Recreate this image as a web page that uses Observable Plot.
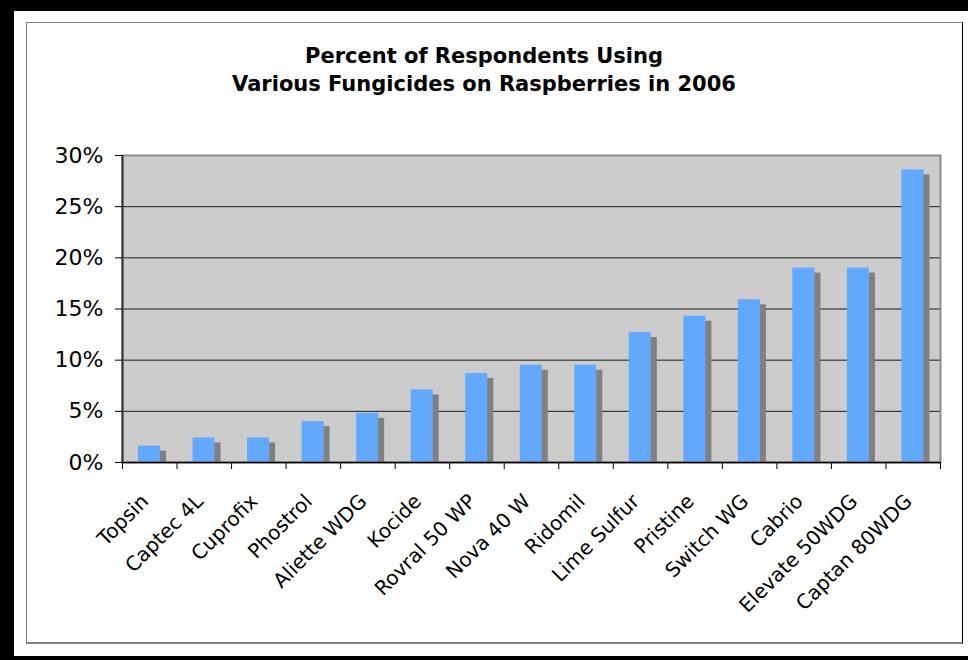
<!DOCTYPE html>
<html><head><meta charset="utf-8">
<script src="https://cdn.jsdelivr.net/npm/d3@7"></script>
<script src="https://cdn.jsdelivr.net/npm/@observablehq/plot@0.6"></script>
<style>
body{margin:0;background:#fff;}
#page{position:relative;width:968px;height:660px;overflow:hidden;background:#fff;font-family:"DejaVu Sans",Verdana,sans-serif;}
.blk{position:absolute;background:#000;}
#inner{position:absolute;left:26px;top:22px;width:937px;height:622px;border:1px solid #808080;border-right-color:#000;border-bottom:2px solid #808080;box-sizing:border-box;}
#title{position:absolute;left:0;width:968px;top:42px;text-align:center;font-weight:bold;font-size:21px;line-height:28px;color:#000;}
#chart{position:absolute;left:0;top:0;}
</style></head>
<body>
<div id="page">
  <div class="blk" style="left:0;top:0;width:968px;height:11px"></div>
  <div class="blk" style="left:0;top:0;width:14px;height:660px"></div>
  <div class="blk" style="left:0;top:656px;width:968px;height:4px"></div>
  <div id="inner"></div>
  <div id="title">Percent of Respondents Using<br>Various Fungicides on Raspberries in 2006</div>
  <div id="chart"></div>
</div>
<script>
const categories = ["Topsin","Captec 4L","Cuprofix","Phostrol","Aliette WDG","Kocide","Rovral 50 WP","Nova 40 W","Ridomil","Lime Sulfur","Pristine","Switch WG","Cabrio","Elevate 50WDG","Captan 80WDG"];
const percents = [1.6,2.4,2.4,4.0,4.8,7.1,8.7,9.5,9.5,12.7,14.3,15.9,19.0,19.0,28.6];
const yTicks = [0,5,10,15,20,25,30];

const data = categories.map((name, i) => ({name, i, value: percents[i]}));

const chart = Plot.plot({
  width: 968, height: 660,
  marginTop: 155, marginLeft: 122, marginRight: 28, marginBottom: 198,
  x: {domain: [0, categories.length], axis: null, label: null},
  y: {domain: [0, 30], axis: null, label: null},
  style: {fontFamily: "'DejaVu Sans', Verdana, sans-serif", background: "transparent", overflow: "visible", color: "#000"},
  marks: [
    Plot.frame({fill: "#CCCCCC", stroke: null}),
    Plot.ruleY(yTicks.filter(d => d > 0 && d < 30), {stroke: "#1a1a1a", strokeWidth: 1}),
    Plot.rectY(data, {x1: "i", x2: d => d.i + 1, y: "value", fill: "#808080", insetLeft: 16, insetRight: 16.5, dx: 6, dy: 5, clip: true}),
    Plot.rectY(data, {x1: "i", x2: d => d.i + 1, y: "value", fill: "#63A8FF", insetLeft: 16, insetRight: 16.5}),
    Plot.frame({stroke: "#8c8c8c", strokeWidth: 2}),
    Plot.ruleX([0], {stroke: "#333", strokeWidth: 2}),
    Plot.ruleY([0], {stroke: "#000", strokeWidth: 1.5}),
    Plot.axisY({ticks: yTicks, tickFormat: d => d + "%", tickSize: 7, tickPadding: 12, fontSize: 22, label: null}),
    Plot.axisX({ticks: d3.range(categories.length + 1), tickSize: 7, tickFormat: () => "", label: null}),
    Plot.text(data, {x: d => d.i + 0.5, y: 0, text: "name", rotate: -45, textAnchor: "end", lineAnchor: "top", dx: -10, dy: 30, fontSize: 20, fill: "#000"})
  ]
});
document.getElementById("chart").appendChild(chart);
</script>
</body></html>
